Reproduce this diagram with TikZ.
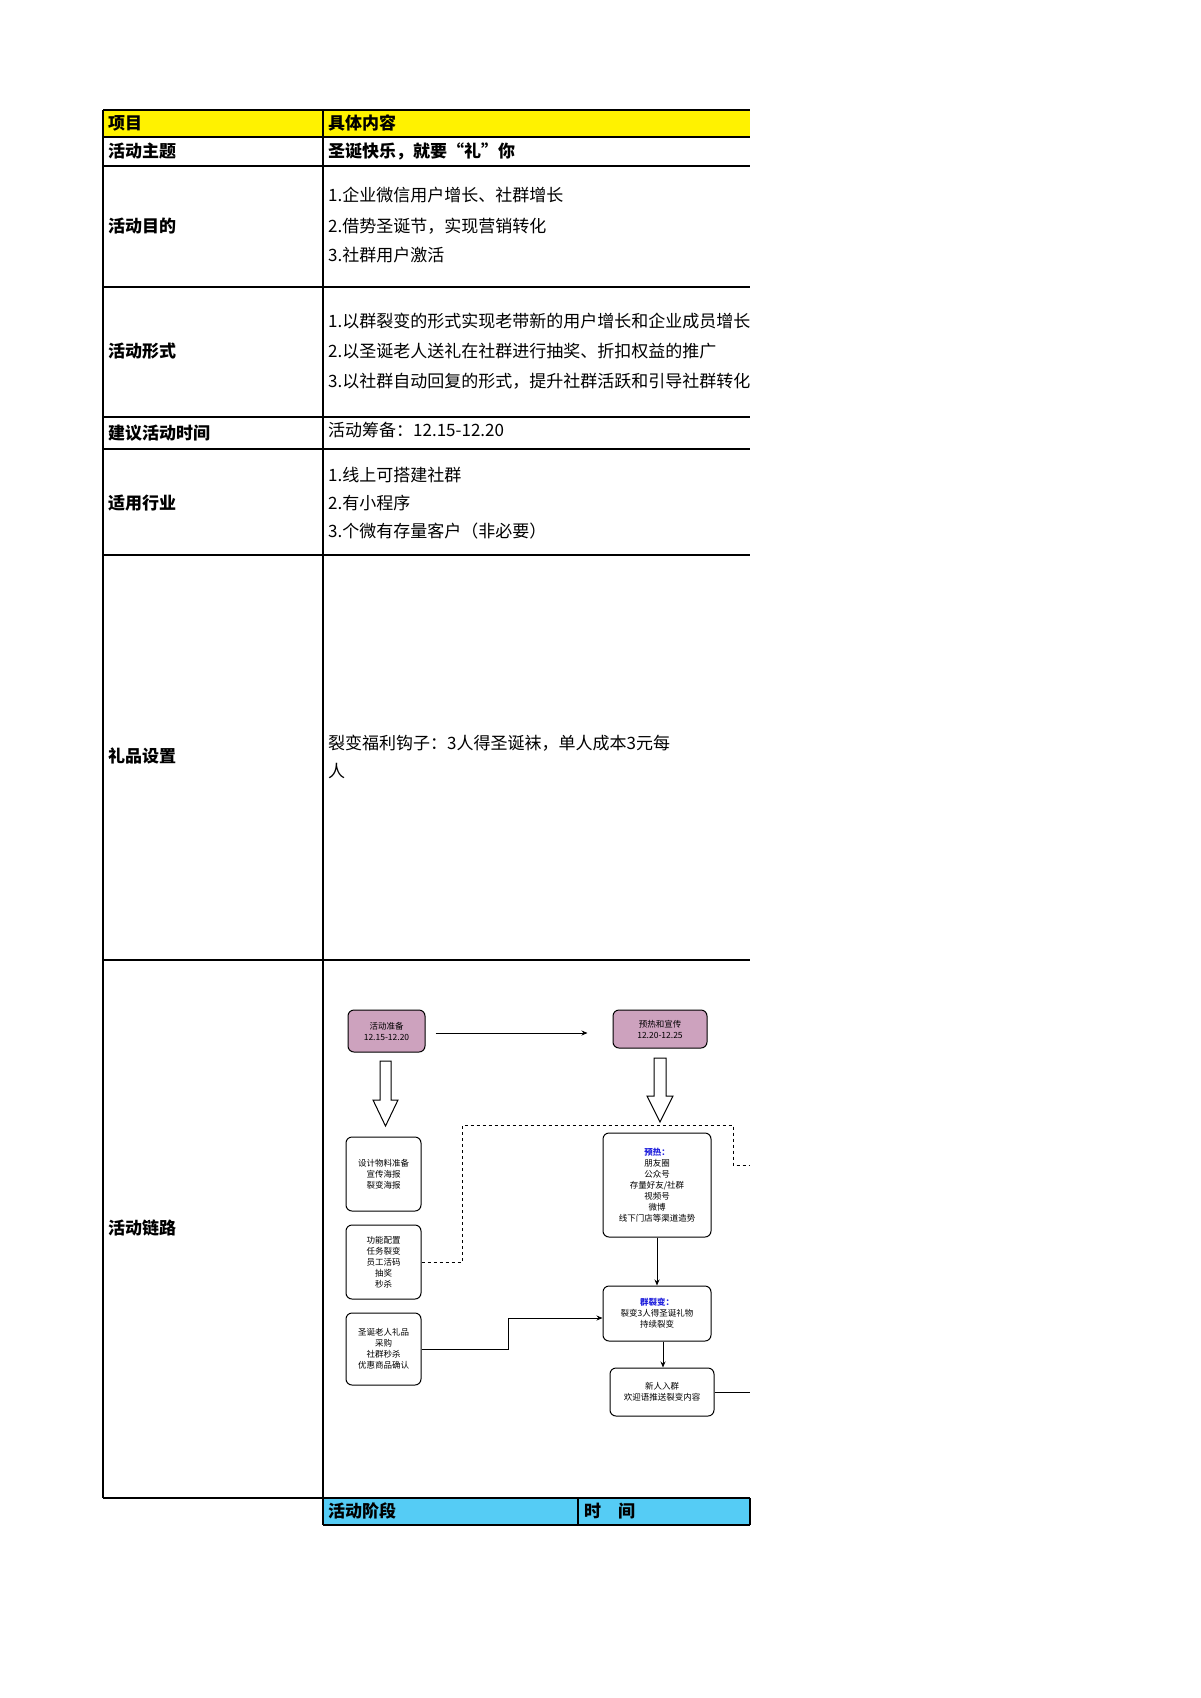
\documentclass[tikz,border=0pt]{standalone}
\usepackage{fontspec}
\setmainfont{Noto Sans CJK SC}
\usetikzlibrary{arrows.meta,calc}
\begin{document}
\begin{tikzpicture}[x=1pt,y=-1pt,
  tl/.style={line width=1.3pt},
  lab/.style={anchor=west,font=\fontsize{17}{20}\selectfont\bfseries,inner sep=0},
  txt/.style={anchor=west,font=\fontsize{17}{20}\selectfont,inner sep=0},
  fbox/.style={draw,rounded corners=6pt,line width=1pt,align=center,font=\fontsize{8.5}{11}\selectfont,inner sep=1pt},
  pbox/.style={fbox,fill=purpleish},
  hol/.style={draw,line width=1pt,fill=white},
  ar/.style={-{Stealth[length=6pt,width=5pt]},line width=0.9pt}]
\definecolor{purpleish}{HTML}{CDA2BE}
\definecolor{cyanh}{HTML}{55CCF5}
\definecolor{bluet}{HTML}{2222DD}
\useasboundingbox (0,0) rectangle (1200,1698);
\fill[white] (0,0) rectangle (1200,1698);
% header fills
\fill[yellow] (103,110) rectangle (750,137);
\fill[cyanh] (323,1498) rectangle (750,1525);
% lines
\draw[tl] (103,110) -- (750,110);
\foreach \yy in {137,166,287,417,449,555,960} \draw[tl] (103,\yy) -- (750,\yy);
\draw[tl] (103,1498) -- (750,1498);
\draw[tl] (323,1525) -- (750,1525);
\draw[tl] (103,110) -- (103,1498);
\draw[tl] (323,110) -- (323,1525);
\draw[tl] (750,1498) -- (750,1525);
\draw[tl] (578,1498) -- (578,1525);
% left labels
\node[lab] (l0) at (108,123) {项目};
\node[lab] (l1) at (108,151) {活动主题};
\node[lab] (l2) at (108,226) {活动目的};
\node[lab] (l3) at (108,351) {活动形式};
\node[lab] (l4) at (108,433) {建议活动时间};
\node[lab] (l5) at (108,503) {适用行业};
\node[lab] (l6) at (108,756) {礼品设置};
\node[lab] (l7) at (108,1228) {活动链路};
\node[lab] (l8) at (328,1511) {活动阶段};
\node[lab] (l9) at (584,1511) {时\quad 间};
\begin{scope}
\clip (323,110) rectangle (750,449);
\node[lab] (c0) at (328,123) {具体内容};
\node[lab] (c1) at (328,151) {圣诞快乐，就要“礼”你};
\node[txt] (c2a) at (328,195) {1.企业微信用户增长、社群增长};
\node[txt] (c2b) at (328,226) {2.借势圣诞节，实现营销转化};
\node[txt] (c2c) at (328,255) {3.社群用户激活};
\node[txt] (c3a) at (328,321) {1.以群裂变的形式实现老带新的用户增长和企业成员增长};
\node[txt] (c3b) at (328,351) {2.以圣诞老人送礼在社群进行抽奖、折扣权益的推广};
\node[txt] (c3c) at (328,381) {3.以社群自动回复的形式，提升社群活跃和引导社群转化};
\node[txt] (c4a) at (328,430) {活动筹备：12.15-12.20};
\node[txt] (c4b) at (328,458) {活动预热：12.20-12.25};
\end{scope}
\node[txt] (c5a) at (328,475) {1.线上可搭建社群};
\node[txt] (c5b) at (328,503) {2.有小程序};
\node[txt] (c5c) at (328,531) {3.个微有存量客户（非必要）};
\node[txt] (c6a) at (328,743) {裂变福利钩子：3人得圣诞袜，单人成本3元每};
\node[txt] (c6b) at (328,771) {人};
% flowchart
\node[pbox,minimum width=77pt,minimum height=42pt] (A) at (386.5,1031) {活动准备\\12.15-12.20};
\node[pbox,minimum width=94pt,minimum height=38pt] (B) at (660,1029) {预热和宣传\\12.20-12.25};
\draw[ar] ($(A.east)+(10,2)$) -- ($(B.west)+(-25,4)$);
\node[fbox,minimum width=75pt,minimum height=74pt] (C) at (383.5,1174) {设计物料准备\\宣传海报\\裂变海报};
\node[fbox,minimum width=75pt,minimum height=74pt] (D) at (383.5,1262) {功能配置\\任务裂变\\员工活码\\抽奖\\秒杀};
\node[fbox,minimum width=75pt,minimum height=72pt] (E) at (383.5,1349) {圣诞老人礼品\\采购\\社群秒杀\\优惠商品确认};
\node[fbox,minimum width=108pt,minimum height=104pt] (F) at (657,1185) {{\color{bluet}\bfseries 预热：}\\朋友圈\\公众号\\存量好友/社群\\视频号\\微博\\线下门店等渠道造势};
\node[fbox,minimum width=108pt,minimum height=55pt] (G) at (657,1313.5) {{\color{bluet}\bfseries 群裂变：}\\裂变3人得圣诞礼物\\持续裂变};
\node[fbox,minimum width=104pt,minimum height=48pt] (H) at (662,1392) {新人入群\\欢迎语推送裂变内容};
% hollow arrows
\draw[hol] (380,1061) -- (391,1061) -- (391,1100) -- (398,1100) -- (385.5,1126) -- (373,1100) -- (380,1100) -- cycle;
\draw[hol] (654,1058) -- (666,1058) -- (666,1096) -- (673,1096) -- (660,1122) -- (647,1096) -- (654,1096) -- cycle;
% connectors
\draw[dashed,line width=0.9pt] (D.east) -- (462,1262) -- (462,1125) -- (733,1125) -- (733,1165) -- (750,1165);
\draw[ar] (F.south) -- (G.north);
\draw[ar] (E.east) -- (508,1349) -- (508,1318) -- (G.west |- 0,1318);
\draw[ar] (G.south -| 663,0) -- (H.north -| 663,0);
\draw[line width=0.9pt] (H.east) -- (750,1392);
\end{tikzpicture}
\end{document}
